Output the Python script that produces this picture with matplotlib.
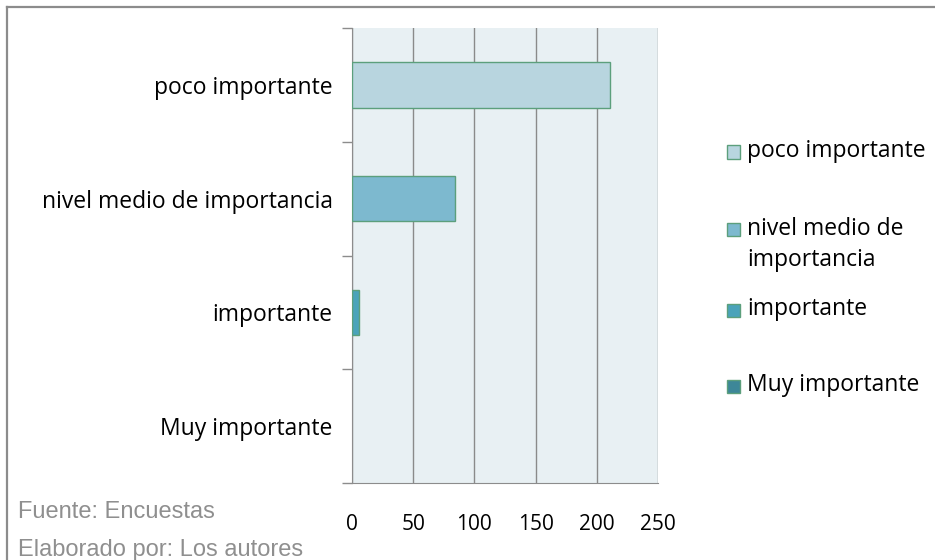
import matplotlib.pyplot as plt
from matplotlib.lines import Line2D
from matplotlib.patches import Rectangle

categorias = ["Muy importante", "importante", "nivel medio de importancia", "poco importante"]
valores = [0, 6, 84, 211]
etiquetas_leyenda = ["poco importante", "nivel medio de\nimportancia", "importante", "Muy importante"]
colores = ["#3d8798", "#4aa3ba", "#7db9cf", "#b8d5df"]
xticks = [0, 50, 100, 150, 200, 250]

plt.rcParams['font.family'] = ['Open Sans', 'DejaVu Sans']

W, H = 935, 560
fig = plt.figure(figsize=(9.35, 5.6), dpi=100)
ax = fig.add_axes([352 / W, 1 - 483 / H, 306 / W, 455 / H])
ax.set_facecolor("#e8f0f3")

pos = list(range(len(categorias)))
for i in pos:
    lw = 1 if valores[i] > 0 else 0
    ax.barh(i, valores[i], height=0.4, color=colores[i], edgecolor="#5c9f7c", linewidth=lw, zorder=3)

ax.set_xlim(0, 250)
ax.set_ylim(-0.5, 3.5)
ax.set_xticks(xticks)
ax.set_xticklabels([str(v) for v in xticks], fontsize=15)
ax.set_yticks(pos)
ax.set_yticklabels(categorias, fontsize=16.5)
ax.set_yticks([-0.5, 0.5, 1.5, 2.5, 3.5], minor=True)
ax.tick_params(axis='y', which='major', length=0, pad=14)
ax.tick_params(axis='y', which='minor', length=7, color="#8c8c8c", width=1)
ax.tick_params(axis='x', length=0, pad=22)
ax.grid(axis='x', color="#8a8a8a", linewidth=1, zorder=1)
for s in ['top', 'right']:
    ax.spines[s].set_visible(False)
ax.spines['left'].set_color("#8c8c8c")
ax.spines['bottom'].set_color("#8c8c8c")

# leyenda dibujada a mano (el cuadro va alineado con la primera línea)
ley_y = [152, 230, 310, 386]
ley_col = [colores[3], colores[2], colores[1], colores[0]]
for yy, lab, c in zip(ley_y, etiquetas_leyenda, ley_col):
    fig.add_artist(Rectangle((727 / W, 1 - (yy + 6.5) / H), 13 / W, 13 / H, transform=fig.transFigure,
                             facecolor=c, edgecolor="#5c9f7c", linewidth=1))
    fig.text(747 / W, 1 - (yy - 13) / H, lab, fontsize=16.5, va='top', ha='left', linespacing=1.4)

fig.add_artist(Line2D([7 / W, 7 / W], [0, 1 - 7 / H], transform=fig.transFigure, color="#8c8c8c", linewidth=1.6))
fig.add_artist(Line2D([7 / W, 1.0], [1 - 7 / H, 1 - 7 / H], transform=fig.transFigure, color="#8c8c8c", linewidth=1.6))

fig.text(18 / W, 1 - 518 / H, "Fuente: Encuestas", fontsize=17, color="#8f8f8f", family="Liberation Sans", va='baseline')
fig.text(18 / W, 1 - 556 / H, "Elaborado por: Los autores", fontsize=17, color="#8f8f8f", family="Liberation Sans", va='baseline')

fig.savefig("out.png", dpi=100)
